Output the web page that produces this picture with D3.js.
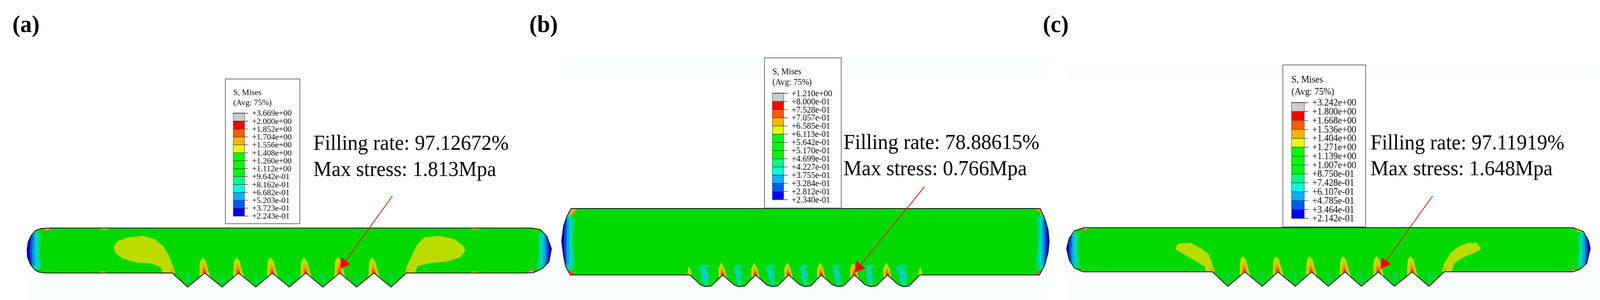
<!DOCTYPE html>
<html>
<head>
<meta charset="utf-8">
<script src="https://cdnjs.cloudflare.com/ajax/libs/d3/7.8.5/d3.min.js"></script>
<style>
  html, body { margin: 0; background: #fff; overflow: hidden; }
  svg { display: block; width: 100vw; height: 100vh; font-family: "Liberation Serif", serif; }
</style>
</head>
<body>
<div id="chart"></div>
<script>
// legend values
const ticksA = ['+3.669e+00','+2.000e+00','+1.852e+00','+1.704e+00','+1.556e+00','+1.408e+00','+1.260e+00','+1.112e+00','+9.642e-01','+8.162e-01','+6.682e-01','+5.203e-01','+3.723e-01','+2.243e-01'];
const ticksB = ['+1.210e+00','+8.000e-01','+7.528e-01','+7.057e-01','+6.585e-01','+6.113e-01','+5.642e-01','+5.170e-01','+4.699e-01','+4.227e-01','+3.755e-01','+3.284e-01','+2.812e-01','+2.340e-01'];
const ticksC = ['+3.242e+00','+1.800e+00','+1.668e+00','+1.536e+00','+1.404e+00','+1.271e+00','+1.139e+00','+1.007e+00','+8.750e-01','+7.428e-01','+6.107e-01','+4.785e-01','+3.464e-01','+2.142e-01'];
const levelColors = ['#cccccc','#ff0000','#ff5a00','#ffb400','#e1ff00','#00ff00','#00ff00','#00f800','#00ff80','#00ffe0','#00b4ff','#005aff','#0000ff'];

const panelLabels = ['(a)', '(b)', '(c)'];
const fillingRates = ['97.12672%', '78.88615%', '97.11919%'];
const maxStress = ['1.813Mpa', '0.766Mpa', '1.648Mpa'];

// model outlines, units along the tube and up from its flat underside
const capLeftA = [[68,115],[38,114],[23,109],[11,96],[3,80],[0,60],[1,41],[8,23],[20,8],[33,2],[48,0]];
const capRightA = [[1328,0],[1346,1],[1369,11],[1387,28],[1394,62],[1382,94],[1364,111],[1342,115]];
const capLeftB = [[25,170],[14,150],[5,126],[0,87],[5,47],[11,20],[23,0]];
const capRightB = [[1270,0],[1284,25],[1293,57],[1296,87],[1293,116],[1284,145],[1272,170]];
const capLeftC = [[47,113],[21,105],[7,86],[0,59],[7,30],[21,10],[44,0]];
const capRightC = [[1346,0],[1364,6],[1383,22],[1392,59],[1388,79],[1374,103],[1346,113]];

const peaksA = [386,472,562,652,741,831,922,1008];
const tipsA = [427,518,608,697,786,876,967];
const peaksB = [341,428,515,603,690,778,866,952];
const tipsB = [383,472,559,647,734,821,909];
const peaksC = [388,474,562,651,740,829,919,1004];
const tipsC = [429,520,608,696,784,872,963];

const tipShapeA = [[-6,-31],[0,-36],[6,-31]];
const tipShapeB = [[-14,-25],[0,-30],[15,-28]];
const tipShapeC = [[-6,-32],[0,-37],[6,-32]];

// yellow stress regions
const blobsA = [
  [[230,67],[240,81],[268,91],[308,95],[340,86],[363,67],[376,47],[385,23],[394,0],[361,0],[355,15],[331,24],[290,27],[254,37],[236,50]],
  [[1006,0],[1010,18],[1024,47],[1038,74],[1056,91],[1096,95],[1137,86],[1162,67],[1164,55],[1151,40],[1115,29],[1069,25],[1038,18],[1031,0]],
  [[185,115],[206,111],[228,115]], [[185,0],[201,4],[221,0]],
  [[1169,115],[1190,111],[1214,115]], [[1169,0],[1188,4],[1210,0]]
];
const blobsB = [];
const blobsC = [
  [[291,64],[299,73],[331,74],[359,59],[379,44],[387,20],[394,0],[370,0],[368,13],[340,30],[313,44],[291,57]],
  [[998,0],[1003,20],[1021,49],[1045,66],[1068,74],[1091,74],[1102,59],[1086,49],[1054,37],[1031,22],[1023,0]]
];

// flames at the notch roots, offset from each peak: yellow, amber, orange, red
const flameSharp = [
  [[-5,40],[-12,31],[-13,15],[-14,-8],[15,-10],[7,15],[3,31]],
  [[-2,27],[-9,11],[-9,-5],[8,-6],[7,5]],
  [[-1,16],[-6,5],[-5,-4],[6,-4],[3,5]],
  [[0,7],[-3,0],[3,0]]
];
const flameRound = [
  [[-3,32],[-11,17],[-11,-5],[11,-7],[5,17]],
  [[-2,22],[-7,7],[-7,-5],[8,-5],[6,3]],
  [[-1,14],[-5,5],[-5,-4],[6,-4],[4,5]],
  [[0,8],[-3,2],[-2,-3],[3,-3],[3,2]]
];
const flameColors = ['#c4dc00','#f5a800','#ff6400','#f03000'];

// amber or yellow patches beside the first and last notch
const sideFlameStart = [[-8,0],[-7,12],[-2,14],[2,8],[4,0]];
const sideFlameEnd = [[-2,0],[-2,10],[2,14],[6,6],[5,0]];
const sideYellowStartB = [[-7,2],[-4,22],[3,13],[4,0]];
const sideYellowEndB = [[-5,0],[1,22],[5,10],[6,0]];

// plumes inside the teeth, offset from each tip
const streakSharp = [[-4,-2],[1,-1],[4,-12],[1,-34],[0,-36],[-2,-22]];
const plumeRound = [
  [[-16,20],[-3,27],[13,23],[1,17],[8,-3],[6,-20],[1,-30],[-6,-20],[-10,0]],
  [[-8,12],[0,12],[3,3],[2,-13],[0,-28],[-5,-13]],
  [[-2,2],[0,0],[1,-7],[-1,-13]]
];
const plumeColors = ['#00d890','#00d8c8','#00a0e0'];

// end cap bands: depth from the cap, fraction of tube height
const capBands = [
  [[23,.95],[37,.83],[33,.5],[38,.2],[36,.1],[23,.05]],
  [[20,.92],[27,.83],[28,.5],[30,.2],[21,.08]],
  [[18,.9],[22,.8],[22,.5],[23,.2],[19,.12]],
  [[15,.87],[16,.76],[14,.5],[15,.2],[13,.15]],
  [[11,.83],[8,.7],[7,.5],[8,.32],[10,.2]]
];
const capColors = ['#00d888','#00d8c8','#00a8dc','#0050dc','#0000d8'];

// stress concentrations in the corners
const cornersA = [
  { pts: [[40,116],[54,106],[68,116]], fill: '#b0b0b0', line: '#ff4a00' },
  { pts: [[1326,-1],[1340,9],[1356,-1]], fill: '#b0b0b0', line: '#ff4a00' }
];
const cornersB = [
  { pts: [[25,171],[41,171],[29,153],[14,150]], fill: '#e8a000', line: 'none' },
  { pts: [[25,171],[31,171],[25,158],[17,160]], fill: '#b0b0b0', line: 'none' },
  { pts: [[12,14],[28,8],[38,-1],[22,-1]], fill: '#ff5000', line: 'none' },
  { pts: [[17,9],[28,-1],[22,-1]], fill: '#b0b0b0', line: 'none' },
  { pts: [[1258,171],[1272,171],[1280,152]], fill: '#e8a000', line: 'none' },
  { pts: [[1256,-1],[1272,-1],[1279,14],[1268,10]], fill: '#ff5000', line: 'none' },
  { pts: [[1262,-1],[1272,-1],[1276,9]], fill: '#b0b0b0', line: 'none' }
];
const cornersC = [
  { pts: [[39,114],[50,105],[62,114]], fill: '#b0b0b0', line: '#ff4a00' },
  { pts: [[1335,-1],[1349,8],[1363,-1]], fill: '#b0b0b0', line: '#ff4a00' },
  { pts: [[30,1],[44,4],[55,-1]], fill: '#f5a800', line: 'none' },
  { pts: [[1346,114],[1362,110],[1372,100],[1358,104]], fill: '#c4dc00', line: 'none' }
];

// arrows: from the label down to the notch, model units
const arrowA = [[971,197],[831,10]];
const arrowB = [[964,225],[778,6]];
const arrowC = [[973,194],[834,7]];

const width = 4253, height = 767;
const green = '#00da00';

// the browser may cap the window narrower than the chart, so fit the viewBox to it
const svg = d3.select('#chart').append('svg')
    .attr('viewBox', [0, 0, width, height])
    .attr('preserveAspectRatio', 'none');

// faint scan background
const backdrop = [[72,700,1394,67],[1488,150,1302,55],[1488,706,1302,61],[2835,170,1392,35],[2835,698,1392,69]];
svg.append('g').selectAll('rect').data(backdrop).join('rect')
    .attr('x', d => d[0]).attr('y', d => d[1]).attr('width', d => d[2]).attr('height', d => d[3])
    .attr('fill', '#fafdfe');

const panels = [
  { i: 0, labelX: 33, left: 72, right: 1466, bottom: 698, top: 583, H: 115, L: 1394, k: 1,
    capL: capLeftA, capR: capRightA, peaks: peaksA, tips: tipsA, tipShape: tipShapeA, blobs: blobsA,
    flame: flameSharp, corners: cornersA, arrow: arrowA, ticks: ticksA,
    box: [599, 202, 198, 370], bar: [620, 289, 552, 30, 10], tickFont: 21.8, head: [243, 269], textX: 833, textY: [383, 450], textFont: 54.5 },
  { i: 1, labelX: 1407, left: 1493, right: 2789, bottom: 703, top: 533, H: 170, L: 1296, k: .9,
    capL: capLeftB, capR: capRightB, peaks: peaksB, tips: tipsB, tipShape: tipShapeB, blobs: blobsB,
    flame: flameRound, corners: cornersB, arrow: arrowB, ticks: ticksB,
    box: [2032, 148, 204, 384], bar: [2053, 238, 510, 30, 11], tickFont: 22.4, head: [190, 217], textX: 2242, textY: [381, 448], textFont: 54.7 },
  { i: 2, labelX: 2772, left: 2835, right: 4227, bottom: 695, top: 582, H: 113, L: 1392, k: .9,
    capL: capLeftC, capR: capRightC, peaks: peaksC, tips: tipsC, tipShape: tipShapeC, blobs: blobsC,
    flame: flameSharp, corners: cornersC, arrow: arrowC, ticks: ticksC,
    box: [3410, 166, 220, 414], bar: [3433, 262, 558, 34, 11], tickFont: 24.3, head: [211, 242], textX: 3643, textY: [382, 448], textFont: 54.3 }
];

panels.forEach(p => {
  const x = d3.scaleLinear().domain([0, p.L]).range([p.left, p.right]);
  const y = d3.scaleLinear().domain([0, p.H]).range([p.bottom, p.top]);
  const line = d3.line().x(d => x(d[0])).y(d => y(d[1]));
  const closed = pts => line(pts) + 'Z';
  const shift = (pts, dx, sx = 1, sy = 1) => pts.map(d => [dx + d[0] * sx, d[1] * sy]);

  // outline: left cap, notches, right cap
  let outline = [...p.capL];
  p.peaks.forEach((peak, j) => {
    outline.push([peak, 0]);
    if (j < p.tips.length) outline = outline.concat(shift(p.tipShape, p.tips[j]));
  });
  outline = outline.concat(p.capR);

  const g = svg.append('g');
  g.append('clipPath').attr('id', 'tube' + p.i).append('path').attr('d', closed(outline));
  g.append('path').attr('d', closed(outline)).attr('fill', green);

  const inner = g.append('g').attr('clip-path', `url(#tube${p.i})`);

  // end caps
  capBands.forEach((band, j) => {
    const pts = band.map(d => [d[0] * p.k, d[1] * p.H]);
    const leftPts = [[-5, pts[0][1]], ...pts, [-5, pts[pts.length - 1][1]]];
    inner.append('path').attr('d', closed(leftPts)).attr('fill', capColors[j]);
    inner.append('path').attr('d', closed(leftPts.map(d => [p.L - d[0], d[1]]))).attr('fill', capColors[j]);
  });

  p.blobs.forEach(b => inner.append('path').attr('d', closed(b)).attr('fill', '#bcdc00'));

  // notch root flames
  p.flame.forEach((layer, j) => {
    inner.selectAll(null).data(p.peaks.slice(1, -1)).join('path')
        .attr('d', d => closed(shift(layer, d)))
        .attr('fill', flameColors[j]);
  });

  // tooth interior
  if (p.i === 1) {
    plumeRound.forEach((layer, j) => {
      inner.selectAll(null).data(p.tips).join('path')
          .attr('d', (d, n) => closed(shift(layer, d, n === 0 || n === 6 ? 1.3 : 1, 1)))
          .attr('fill', plumeColors[j]);
    });
    inner.append('path').attr('d', closed(shift(sideYellowStartB, p.peaks[0]))).attr('fill', flameColors[0]);
    inner.append('path').attr('d', closed(shift(sideYellowEndB, p.peaks[7]))).attr('fill', flameColors[0]);
  } else {
    inner.selectAll(null).data(p.tips).join('path')
        .attr('d', d => closed(shift(streakSharp, d)))
        .attr('fill', '#00d080');
    inner.append('path').attr('d', closed(shift(sideFlameStart, p.peaks[0]))).attr('fill', '#f5a800');
    inner.append('path').attr('d', closed(shift(sideFlameEnd, p.peaks[7]))).attr('fill', '#f5a800');
  }

  p.corners.forEach(c => inner.append('path')
      .attr('d', closed(c.pts))
      .attr('fill', c.fill)
      .attr('stroke', c.line)
      .attr('stroke-width', 2));

  g.append('path').attr('d', closed(outline))
      .attr('fill', 'none')
      .attr('stroke', '#111')
      .attr('stroke-width', 2)
      .attr('stroke-linejoin', 'round');

  // legend
  const [bx, by, bw, bh] = p.box;
  const [barX, barTop, barBottom, barW, tickOut] = p.bar;
  g.append('rect')
      .attr('x', bx).attr('y', by).attr('width', bw).attr('height', bh)
      .attr('fill', '#fff').attr('stroke', '#444').attr('stroke-width', 1.5);

  const lev = d3.scalePoint().domain(p.ticks).range([barTop, barBottom]);
  g.selectAll(null).data(levelColors).join('rect')
      .attr('x', barX)
      .attr('y', (d, j) => lev(p.ticks[j]))
      .attr('width', barW)
      .attr('height', (d, j) => lev(p.ticks[j + 1]) - lev(p.ticks[j]))
      .attr('fill', d => d);
  g.append('rect')
      .attr('x', barX).attr('y', barTop).attr('width', barW).attr('height', barBottom - barTop)
      .attr('fill', 'none').attr('stroke', '#555').attr('stroke-width', 1.2);

  const axis = g.append('g')
      .attr('transform', `translate(${barX},0)`)
      .call(d3.axisRight(lev).tickSize(barW + tickOut).tickPadding(10));
  axis.select('.domain').remove();
  axis.selectAll('.tick line').attr('stroke', '#333').attr('stroke-width', 1.3);
  axis.selectAll('.tick text')
      .attr('font-family', '"Liberation Serif", serif')
      .attr('font-size', p.tickFont)
      .attr('fill', '#111');

  g.selectAll(null).data(['S, Mises', '(Avg: 75%)']).join('text')
      .attr('x', barX)
      .attr('y', (d, j) => p.head[j])
      .attr('font-size', p.tickFont)
      .attr('fill', '#111')
      .text(d => d);

  // annotation
  g.append('text').attr('x', p.textX).attr('y', p.textY[0]).attr('font-size', p.textFont)
      .text(`Filling rate: ${fillingRates[p.i]}`);
  g.append('text').attr('x', p.textX).attr('y', p.textY[1]).attr('font-size', p.textFont)
      .text(`Max stress: ${maxStress[p.i]}`);

  g.append('text').attr('x', p.labelX).attr('y', 82)
      .attr('font-size', 62).attr('font-weight', 'bold')
      .text(panelLabels[p.i]);

  // arrow
  const x0 = x(p.arrow[0][0]), y0 = y(p.arrow[0][1]);
  const x1 = x(p.arrow[1][0]), y1 = y(p.arrow[1][1]);
  const ang = Math.atan2(y1 - y0, x1 - x0);
  const hl = 27, hw = 15;
  const bxc = x1 - hl * Math.cos(ang), byc = y1 - hl * Math.sin(ang);
  g.append('line')
      .attr('x1', x0).attr('y1', y0).attr('x2', bxc).attr('y2', byc)
      .attr('stroke', '#ff0000').attr('stroke-width', 2);
  g.append('polygon')
      .attr('points', [
        [x1, y1],
        [bxc + hw * Math.sin(ang), byc - hw * Math.cos(ang)],
        [bxc - hw * Math.sin(ang), byc + hw * Math.cos(ang)]
      ].join(' '))
      .attr('fill', '#ff0000');
});
</script>
</body>
</html>
